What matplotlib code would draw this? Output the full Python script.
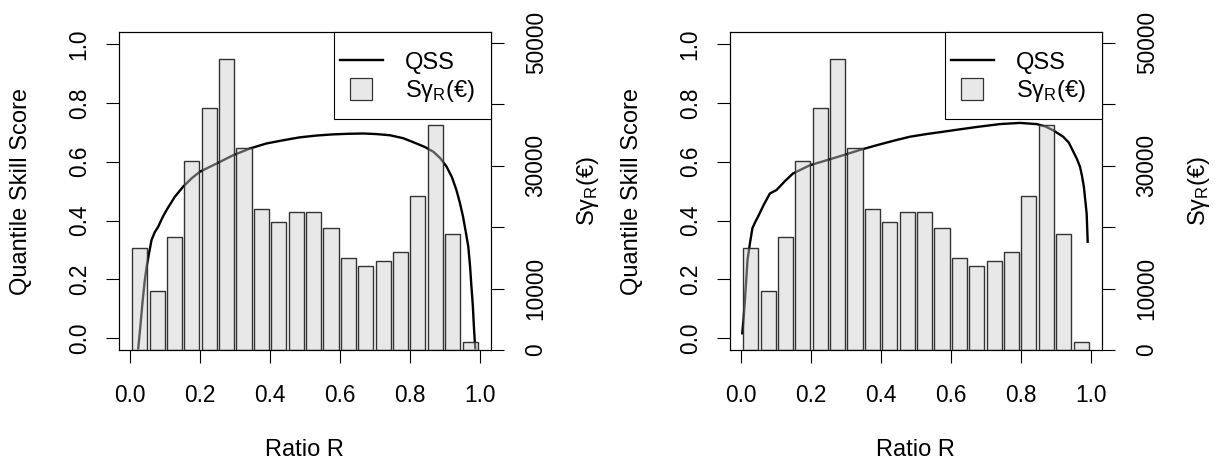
import numpy as np
import matplotlib.pyplot as plt
from matplotlib.lines import Line2D
from matplotlib.patches import Rectangle

plt.rcParams['font.family'] = ['Liberation Sans', 'DejaVu Sans']
plt.rcParams['font.size'] = 17
plt.rcParams['mathtext.default'] = 'regular'

# --- data ---
# histogram of S_gamma_R (same in both panels), 20 bins over R in [0, 1]
bin_index = np.arange(20)
s_gamma = [16620, 9540, 18350, 30750, 39300, 47340, 32940, 22920, 20800, 22430,
           22430, 19820, 14930, 13740, 14500, 15970, 24990, 36620, 18840, 1290]

# QSS curve, left panel
r_left = [0.024, 0.030, 0.036, 0.042, 0.048, 0.055, 0.062, 0.071, 0.081, 0.093,
          0.105, 0.128, 0.152, 0.176, 0.200, 0.248, 0.295, 0.343, 0.390, 0.438,
          0.486, 0.533, 0.581, 0.624, 0.667, 0.705, 0.743, 0.781, 0.819, 0.843,
          0.867, 0.887, 0.905, 0.920, 0.933, 0.943, 0.952, 0.960, 0.967, 0.972,
          0.976, 0.980, 0.983, 0.985, 0.987]
qss_left = [-0.034, 0.040, 0.120, 0.190, 0.243, 0.290, 0.334, 0.360, 0.379, 0.410,
            0.436, 0.480, 0.515, 0.543, 0.566, 0.594, 0.622, 0.645, 0.662, 0.673,
            0.683, 0.689, 0.693, 0.695, 0.696, 0.694, 0.690, 0.680, 0.662, 0.650,
            0.634, 0.612, 0.583, 0.548, 0.504, 0.460, 0.413, 0.360, 0.311, 0.245,
            0.175, 0.110, 0.039, 0.000, -0.034]

# QSS curve, right panel
r_right = [0.004, 0.008, 0.011, 0.015, 0.019, 0.026, 0.033, 0.041, 0.049, 0.066,
           0.083, 0.102, 0.125, 0.149, 0.197, 0.245, 0.292, 0.340, 0.388, 0.435,
           0.483, 0.530, 0.578, 0.625, 0.673, 0.740, 0.797, 0.845, 0.870, 0.892,
           0.921, 0.937, 0.950, 0.960, 0.969, 0.975, 0.980, 0.984, 0.988, 0.991]
qss_right = [0.017, 0.070, 0.119, 0.190, 0.266, 0.323, 0.374, 0.395, 0.413, 0.455,
             0.492, 0.504, 0.533, 0.560, 0.588, 0.605, 0.622, 0.640, 0.656, 0.671,
             0.685, 0.694, 0.702, 0.710, 0.718, 0.728, 0.732, 0.728, 0.720, 0.707,
             0.685, 0.665, 0.634, 0.610, 0.583, 0.550, 0.515, 0.470, 0.424, 0.328]

qss_ticks = [0.0, 0.2, 0.4, 0.6, 0.8, 1.0]
s_ticks = [0, 10000, 20000, 30000, 40000, 50000]
s_tick_labels = ['0', '10000', '', '30000', '', '50000']
x_ticks = [0.0, 0.2, 0.4, 0.6, 0.8, 1.0]

s_label = r'S$\gamma_R$(€)'

W, H = 1216, 467
fig = plt.figure(figsize=(W / 100, H / 100), dpi=100)


def panel(left_px, r, q):
    ax = fig.add_axes([left_px / W, 1 - 350 / H, 371.7 / W, 317.7 / H])
    ax2 = ax.twinx()

    # curve underneath, translucent bars on top
    ax.plot(r, q, color='black', lw=1.7)
    ax.set_xlim(-0.031, 1.031)
    ax.set_ylim(-0.04, 1.04)
    ax.set_xticks(x_ticks)
    ax.set_xticklabels([f'{t:.1f}' for t in x_ticks], fontsize=16.3)
    ax.set_yticks(qss_ticks)
    ax.set_yticklabels([f'{t:.1f}' for t in qss_ticks], rotation=90, va='center',
                       fontsize=16.3)
    ax.set_xlabel('Ratio R', labelpad=23)
    ax.set_ylabel('Quantile Skill Score', va='center')
    ax.yaxis.set_label_coords(-0.264, 0.5)

    ax2.bar(0.028 + 0.0497 * bin_index, s_gamma, width=0.043,
            facecolor=(0.8, 0.8, 0.8, 0.45), edgecolor='#333333', lw=1.0)
    ax2.set_ylim(0, 51700)
    ax2.set_yticks(s_ticks)
    ax2.set_yticklabels(s_tick_labels, rotation=90, va='center', fontsize=16.3)
    ax2.set_ylabel(s_label, rotation=90, va='center')
    ax2.yaxis.set_label_coords(1.262, 0.5)

    for a in (ax, ax2):
        a.tick_params(direction='out', length=9.4, width=0.8)
        for s in a.spines.values():
            s.set_linewidth(0.8)
    ax.tick_params(axis='x', pad=15)
    ax.tick_params(axis='y', pad=11)
    ax2.tick_params(axis='y', pad=15)

    # legend box in the top right corner, R style
    ax2.add_patch(Rectangle((0.5784, 0.728), 0.4216, 0.272, transform=ax2.transAxes,
                            facecolor='white', edgecolor='black', lw=0.8,
                            zorder=4, clip_on=False))
    handles = [Line2D([], [], color='black', lw=1.7),
               Line2D([], [], marker='s', markersize=16.5, linestyle='none',
                      markerfacecolor='#e8e8e8', markeredgecolor='#333333',
                      markeredgewidth=0.9)]
    leg = ax2.legend(handles, ['QSS', s_label], loc='upper left',
                     bbox_to_anchor=(0.5946, 0.939), borderaxespad=0,
                     borderpad=0, frameon=False, handlelength=1.82,
                     handletextpad=0.93, labelspacing=0.2)
    leg.set_zorder(5)


panel(119, r_left, qss_left)
panel(730, r_right, qss_right)

fig.savefig('out.png', dpi=100)
